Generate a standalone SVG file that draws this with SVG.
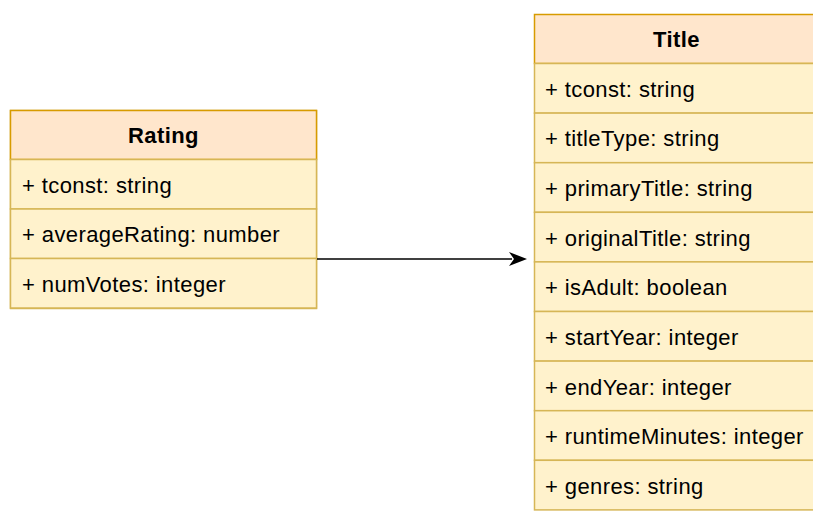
<svg xmlns="http://www.w3.org/2000/svg" width="813" height="512" viewBox="0 0 813 512">
<style>
.hd{fill:#FFE6CC;stroke:#D79B00;stroke-width:1.5}
.row{fill:#FFF2CC;stroke:#D6B656;stroke-width:1.5}
.t{font-family:"Liberation Sans",Arial,sans-serif;font-size:22px;letter-spacing:0.4px;fill:#000;dominant-baseline:central}
.b{font-weight:bold;text-anchor:middle}
</style>
<defs>
<marker id="ah" viewBox="0 0 18 14" refX="18" refY="7" markerWidth="18" markerHeight="14" markerUnits="userSpaceOnUse" orient="auto">
<path d="M0,0 L18,7 L0,14 L5,7 Z" fill="#000"/>
</marker>
</defs>
<rect width="813" height="512" fill="#fff"/>
<g id="rating">
<rect class="row" x="10.5" y="110.5" width="306" height="198"/>
<rect class="hd" x="10.5" y="110.5" width="306" height="49"/>
<rect class="row" x="10.5" y="159.5" width="306" height="49.5"/>
<rect class="row" x="10.5" y="209" width="306" height="49.5"/>
<rect class="row" x="10.5" y="258.5" width="306" height="49.5"/>
<text class="t b" x="163.5" y="135">Rating</text>
<text class="t" x="22" y="185">+ tconst: string</text>
<text class="t" x="22" y="234.5">+ averageRating: number</text>
<text class="t" x="22" y="284">+ numVotes: integer</text>
</g>
<g id="title">
<rect class="hd" x="534.5" y="14.5" width="284" height="49"/>
<rect class="row" x="534.5" y="63.5" width="284" height="49.6"/>
<rect class="row" x="534.5" y="113.1" width="284" height="49.6"/>
<rect class="row" x="534.5" y="162.7" width="284" height="49.6"/>
<rect class="row" x="534.5" y="212.3" width="284" height="49.6"/>
<rect class="row" x="534.5" y="261.9" width="284" height="49.6"/>
<rect class="row" x="534.5" y="311.5" width="284" height="49.6"/>
<rect class="row" x="534.5" y="361.1" width="284" height="49.6"/>
<rect class="row" x="534.5" y="410.7" width="284" height="49.6"/>
<rect class="row" x="534.5" y="460.3" width="284" height="49.6"/>
<text class="t b" x="676.5" y="39">Title</text>
<text class="t" x="545" y="89">+ tconst: string</text>
<text class="t" x="545" y="138.5">+ titleType: string</text>
<text class="t" x="545" y="188">+ primaryTitle: string</text>
<text class="t" x="545" y="238">+ originalTitle: string</text>
<text class="t" x="545" y="287.5">+ isAdult: boolean</text>
<text class="t" x="545" y="337">+ startYear: integer</text>
<text class="t" x="545" y="387">+ endYear: integer</text>
<text class="t" x="545" y="436.5">+ runtimeMinutes: integer</text>
<text class="t" x="545" y="486">+ genres: string</text>
</g>
<g id="connectors">
<line x1="317" y1="259" x2="512" y2="259" stroke="#000" stroke-width="1.5"/>
<line x1="317" y1="259" x2="527" y2="259" stroke="none" marker-end="url(#ah)"/>
</g>
</svg>
